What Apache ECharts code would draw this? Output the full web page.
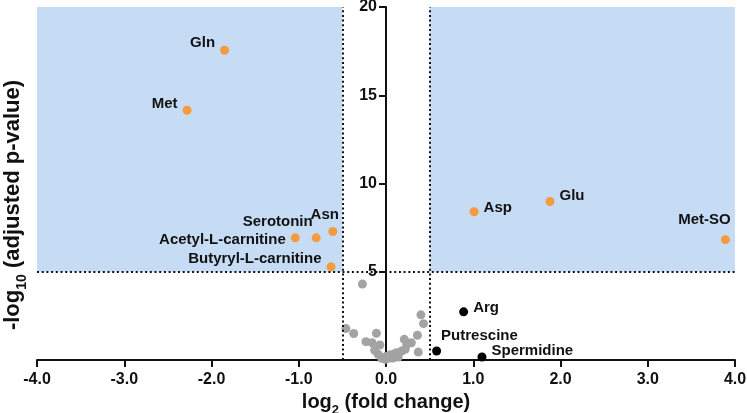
<!DOCTYPE html>
<html>
<head>
<meta charset="utf-8">
<script src="https://cdn.jsdelivr.net/npm/echarts@6/dist/echarts.min.js"></script>
<style>html,body{margin:0;padding:0;background:#fff}#c{width:747px;height:413px}</style>
</head>
<body>
<div id="c"></div>
<script>
// ---- data ----
const sigNames = ['Gln','Met','Asn','Serotonin','Acetyl-L-carnitine','Butyryl-L-carnitine','Asp','Glu','Met-SO'];
const sigX = [-1.85,-2.28,-0.61,-0.80,-1.04,-0.63,1.01,1.88,3.89];
const sigY = [17.55,14.15,7.28,6.92,6.92,5.28,8.40,8.98,6.82];

const blackNames = ['Arg','Putrescine','Spermidine'];
const blackX = [0.89,0.58,1.10];
const blackY = [2.73,0.51,0.17];

const greyX = [-0.27,-0.46,-0.37,-0.11,-0.23,-0.16,-0.07,-0.13,-0.09,-0.05,-0.01,0.03,0.08,0.12,0.18,0.22,0.24,0.21,0.29,0.36,0.37,0.40,0.43,0.08,0.14,0.00,0.05,0.10];
const greyY = [4.30,1.78,1.50,1.51,1.04,0.98,0.85,0.55,0.32,0.10,0.04,0.10,0.23,0.41,0.51,0.61,0.89,1.17,0.98,1.40,0.45,2.56,2.06,0.11,0.17,0.20,0.30,0.35];

const xTicks = [-4,-3,-2,-1,0,1,2,3,4];
const yTicks = [5,10,15,20];
const fcCut = 0.5, pCut = 5;

// ---- label placement (style) ----
const labelPos = {
  'Gln': {position:'left', offset:[0,-7]},
  'Met': {position:'left', offset:[0,-6]},
  'Asn': {position:'top', offset:[-8,0]},
  'Serotonin': {position:'left', offset:[6,-16]},
  'Acetyl-L-carnitine': {position:'left', offset:[0,2]},
  'Butyryl-L-carnitine': {position:'left', offset:[0,-8]},
  'Asp': {position:'right', offset:[0,-4]},
  'Glu': {position:'right', offset:[0,-6]},
  'Met-SO': {position:'top', offset:[-21,-3]},
  'Arg': {position:'right', offset:[0,-4]},
  'Putrescine': {position:'right', offset:[-5,-15]},
  'Spermidine': {position:'right', offset:[0,-6]}
};
const FF = 'Liberation Sans, Arial';
const lblFont = {fontFamily:FF, fontWeight:'bold', fontSize:15, color:'#111', distance:5};
function mk(names, xs, ys){
  return names.map((n,i)=>({name:n, value:[xs[i], ys[i]], label:Object.assign({show:true, formatter:n}, lblFont, labelPos[n])}));
}

const chart = echarts.init(document.getElementById('c'));
const axisFont = {fontFamily:FF, fontWeight:'bold', fontSize:16, color:'#111'};
const lineStyle = {color:'#111', width:2};
const dotted = {color:'#111', width:2, type:[2,2.7]};
chart.setOption({
  animation:false,
  grid:{left:37, right:12, top:7, bottom:53, containLabel:false, outerBoundsMode:'none'},
  xAxis:{
    type:'value', min:xTicks[0], max:xTicks[xTicks.length-1], interval:1,
    axisLine:{onZero:false, lineStyle:lineStyle},
    axisTick:{show:true, length:7, lineStyle:lineStyle},
    splitLine:{show:false},
    axisLabel:Object.assign({margin:12, formatter:v=>v.toFixed(1)}, axisFont),
    name:'{a|log}{s|2}{a| (fold change)}',
    nameLocation:'middle', nameGap:30,
    nameTextStyle:{rich:{
      a:{fontFamily:FF, fontWeight:'bold', fontSize:20, color:'#111', verticalAlign:'bottom', lineHeight:22},
      s:{fontFamily:FF, fontWeight:'bold', fontSize:13, color:'#111', verticalAlign:'bottom', lineHeight:14, padding:[0,0,-4,0]}
    }}
  },
  yAxis:{
    type:'value', min:0, max:yTicks[yTicks.length-1], interval:5,
    axisLine:{onZero:false, lineStyle:lineStyle},
    axisTick:{show:true, length:7, lineStyle:lineStyle},
    splitLine:{show:false},
    axisLabel:Object.assign({margin:9, formatter:v=>yTicks.indexOf(v)>=0?String(v):''}, axisFont)
  },
  graphic:[{
    type:'text', rotation:Math.PI/2, x:12, y:205,
    style:{
      text:'{a|-log}{s|10}{a| (adjusted p-value)}',
      align:'center', verticalAlign:'middle',
      rich:{
        a:{fontFamily:FF, fontWeight:'bold', fontSize:22, fill:'#111', verticalAlign:'bottom', lineHeight:24},
        s:{fontFamily:FF, fontWeight:'bold', fontSize:14, fill:'#111', verticalAlign:'bottom', lineHeight:15, padding:[0,0,-5,0]}
      }
    }
  }],
  series:[
    {
      type:'scatter', data:[], silent:true,
      markArea:{silent:true, itemStyle:{color:'#c6dcf5', opacity:1},
        data:[[{coord:[xTicks[0], pCut]},{coord:[-fcCut, yTicks[yTicks.length-1]]}],
              [{coord:[fcCut, pCut]},{coord:[xTicks[xTicks.length-1], yTicks[yTicks.length-1]]}]]},
      markLine:{silent:true, symbol:'none', label:{show:false}, lineStyle:dotted,
        data:[{xAxis:-fcCut},{xAxis:fcCut},{yAxis:pCut}]}
    },
    {type:'scatter', symbolSize:9, itemStyle:{color:'#a3a3a3', opacity:1}, data:greyX.map((x,i)=>[x, greyY[i]])},
    {type:'scatter', symbolSize:9, itemStyle:{color:'#f59b3f', opacity:1}, data:mk(sigNames, sigX, sigY)},
    {type:'scatter', symbolSize:9, itemStyle:{color:'#000', opacity:1}, data:mk(blackNames, blackX, blackY)}
  ]
});
// place the y axis at x = 0 using the x scale
const px0 = chart.convertToPixel({xAxisIndex:0}, 0);
const pxMin = chart.convertToPixel({xAxisIndex:0}, xTicks[0]);
chart.setOption({yAxis:{offset:-(px0 - pxMin)}});
</script>
</body>
</html>
